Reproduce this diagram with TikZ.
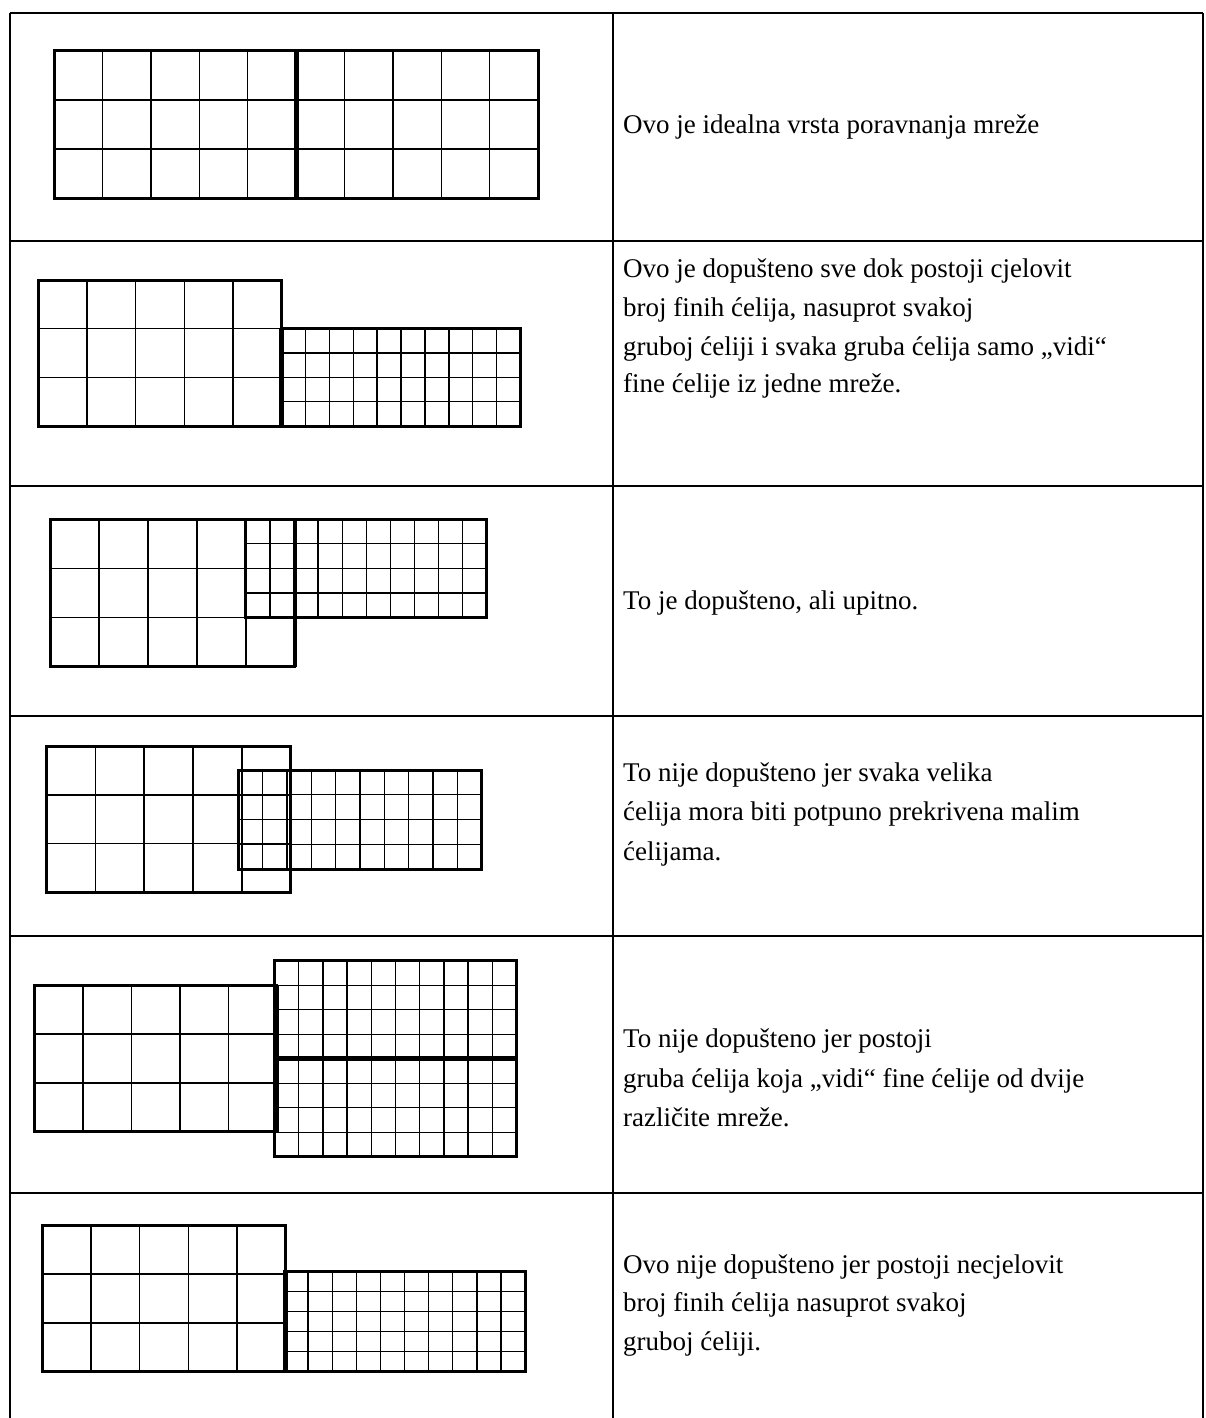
\documentclass[tikz,border=0pt]{standalone}
\usepackage{fontspec}
\setmainfont{Liberation Serif}
\newcommand{\mygrid}[6]{%
  \pgfmathtruncatemacro\mnx{#5-1}\pgfmathtruncatemacro\mny{#6-1}%
  \foreach \i in {1,...,\mnx} \draw[fine] ({#1+\i*#3},#2) -- ++(0,{#6*#4});%
  \foreach \j in {1,...,\mny} \draw[fine] (#1,{#2+\j*#4}) -- ++({#5*#3},0);%
  \draw[outl] (#1,#2) rectangle ++({#5*#3},{#6*#4});%
}
\begin{document}
\begin{tikzpicture}[x=1pt,y=-1pt,
  tbl/.style={line width=1.8pt},
  fine/.style={line width=1.4pt},
  outl/.style={line width=3pt},
  heavy/.style={line width=5pt},
  txt/.style={anchor=base west, inner sep=0pt, font=\fontsize{27}{39}\selectfont}]
\useasboundingbox (0,0) rectangle (1205,1418);
\fill[white] (0,0) rectangle (1205,1418);
% table frame
\draw[tbl] (10,13) -- (1203,13);
\draw[tbl] (10,13) -- (10,1418);
\draw[tbl] (613,13) -- (613,1418);
\draw[tbl] (1203,13) -- (1203,1418);
\foreach \y/\r in {241/543, 486/518, 716/536, 936/538, 1193/552}{
  \draw[line width=1.5pt] (10,\y) -- (613,\y);
  \draw[line width=2.4pt] (10,\y) -- (24,\y);
  \draw[line width=2.4pt] (\r,\y) -- (1203,\y);
}
% row 1
\mygrid{54}{51}{48.4}{49}{10}{3}
\draw[heavy] (296,51) -- (296,198);
% row 2
\mygrid{38.5}{280}{48.6}{48.7}{5}{3}
\mygrid{281.5}{328.7}{23.9}{24.35}{10}{4}
\draw[heavy] (281.5,328.7) -- (281.5,426.1);
% row 3
\mygrid{50.2}{519}{48.9}{49.3}{5}{3}
\mygrid{245.8}{519}{24.1}{24.65}{10}{4}
\draw[line width=4pt] (294.7,519) -- (294.7,666.9);
% row 4
\mygrid{46.3}{746}{48.9}{48.8}{5}{3}
\mygrid{238.4}{770}{24.32}{24.75}{10}{4}
\draw[outl] (290.8,746) -- (290.8,892.4);
% row 5
\mygrid{34.4}{985}{48.5}{48.9}{5}{3}
\mygrid{274.5}{960.7}{24.2}{24.5}{10}{4}
\mygrid{274.5}{1058.7}{24.2}{24.5}{10}{4}
\draw[heavy] (274.5,1058.7) -- (516.5,1058.7);
\draw[heavy] (276,985) -- (276,1131.7);
% row 6
\mygrid{42.3}{1225}{48.64}{48.9}{5}{3}
\mygrid{284}{1271.2}{24.1}{20.1}{10}{5}
\draw[heavy] (285,1271.2) -- (285,1371.7);
% texts
\node[txt] (t1) at (623,133) {Ovo je idealna vrsta poravnanja mreže};
\node[txt] (t2a) at (623,277) {Ovo je dopušteno sve dok postoji cjelovit};
\node[txt] (t2b) at (623,316) {broj finih ćelija, nasuprot svakoj};
\node[txt] (t2c) at (623,355) {gruboj ćeliji i svaka gruba ćelija samo „vidi“};
\node[txt] (t2d) at (623,392) {fine ćelije iz jedne mreže.};
\node[txt] (t3) at (623,609) {To je dopušteno, ali upitno.};
\node[txt] (t4a) at (623,781) {To nije dopušteno jer svaka velika};
\node[txt] (t4b) at (623,820) {ćelija mora biti potpuno prekrivena malim};
\node[txt] (t4c) at (623,860) {ćelijama.};
\node[txt] (t5a) at (623,1047) {To nije dopušteno jer postoji};
\node[txt] (t5b) at (623,1087) {gruba ćelija koja „vidi“ fine ćelije od dvije};
\node[txt] (t5c) at (623,1126) {različite mreže.};
\node[txt] (t6a) at (623,1273) {Ovo nije dopušteno jer postoji necjelovit};
\node[txt] (t6b) at (623,1311) {broj finih ćelija nasuprot svakoj};
\node[txt] (t6c) at (623,1350) {gruboj ćeliji.};
\end{tikzpicture}
\end{document}
